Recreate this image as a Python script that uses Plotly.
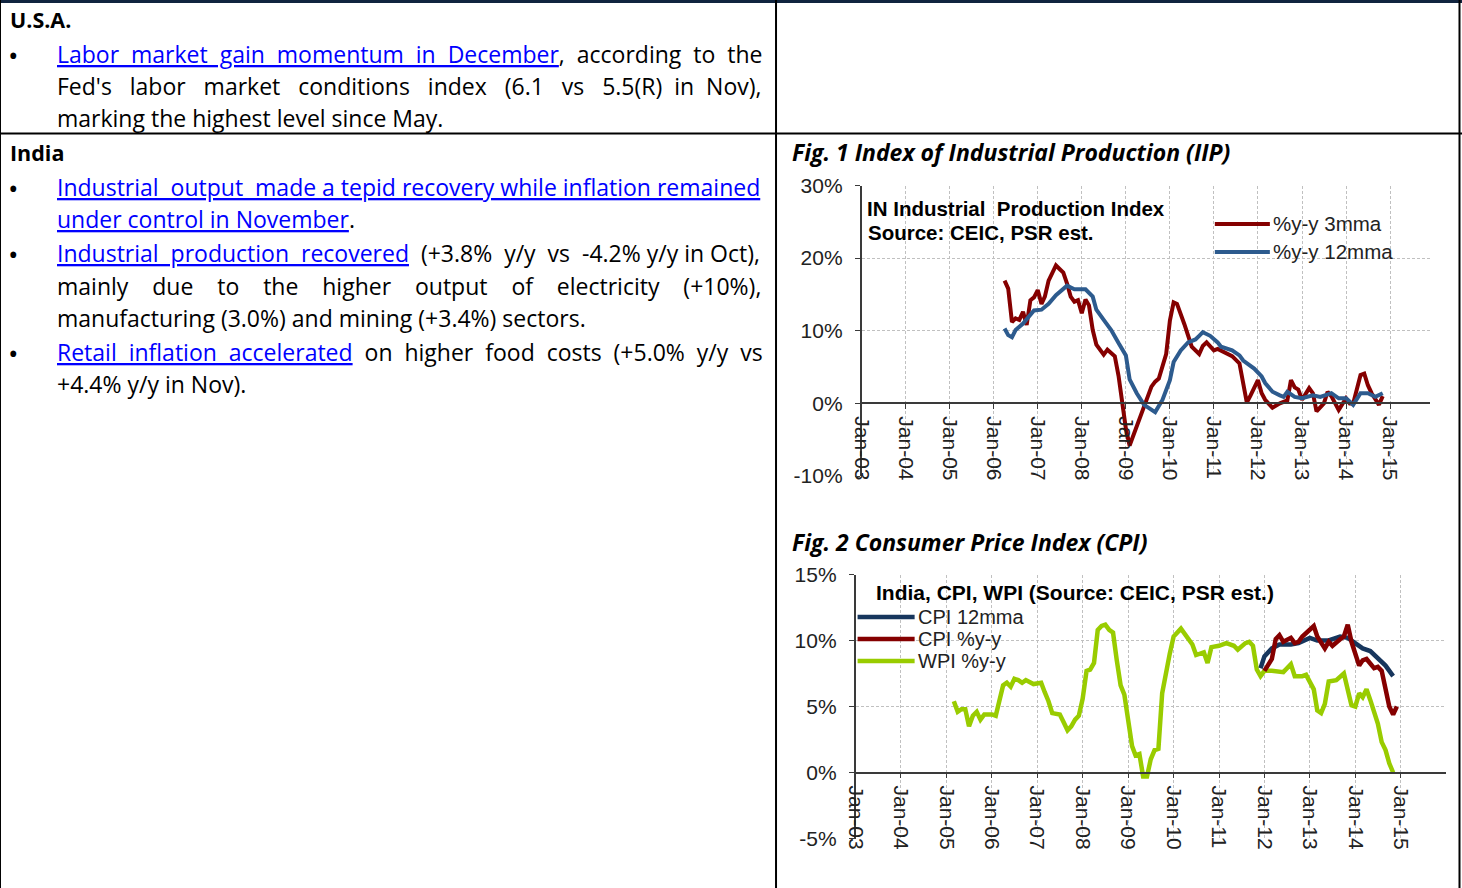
import plotly.graph_objects as go

W, H = 1462, 888
# the photographed page shows the figure inside a frame offset from the corner;
# map reference pixel positions onto that frame
OX, OY, FW, FH = 12, 12, 1450, 865


def fx(x):
    return (x - OX) / FW


def fy(y):
    return 1 - (y - OY) / FH


# ---------------- data ----------------
# Fig. 1  IN Industrial Production Index (% y-y)
iip_3mma_dates = [
    "2006-04", "2006-05", "2006-06", "2006-07", "2006-08", "2006-09", "2006-10", "2006-11", "2006-12",
    "2007-01", "2007-02", "2007-03", "2007-04", "2007-06", "2007-07", "2007-08", "2007-09", "2007-10",
    "2007-11", "2007-12", "2008-01", "2008-02", "2008-03", "2008-04", "2008-05", "2008-07", "2008-08",
    "2008-10", "2008-11", "2008-12", "2009-01", "2009-02", "2009-04", "2009-06", "2009-08", "2009-09",
    "2009-10", "2009-12", "2010-01", "2010-02", "2010-03", "2010-05", "2010-06", "2010-07", "2010-09",
    "2010-10", "2010-11", "2011-01", "2011-02", "2011-04", "2011-06", "2011-08", "2011-10", "2011-11",
    "2012-01", "2012-02", "2012-03", "2012-05", "2012-07", "2012-09", "2012-10", "2012-11", "2012-12",
    "2013-01", "2013-03", "2013-04", "2013-05", "2013-07", "2013-08", "2013-09", "2013-11", "2014-01",
    "2014-02", "2014-03", "2014-05", "2014-06", "2014-07", "2014-08", "2014-10", "2014-11",
]
iip_3mma = [
    16.9, 15.8, 11.2, 11.7, 11.5, 12.6, 10.8, 14.2, 14.6,
    15.6, 13.7, 14.7, 16.9, 19.0, 18.5, 18.0, 16.5, 14.7,
    14.0, 14.2, 12.4, 14.3, 13.5, 10.1, 8.1, 6.7, 7.4,
    6.5, 3.8, 0.1, -3.5, -5.8, -3.1, -0.4, 2.3, 3.0,
    3.4, 6.8, 11.4, 13.9, 13.7, 10.9, 9.2, 7.8, 6.8,
    7.9, 8.4, 7.3, 7.5, 7.0, 6.5, 5.5, 0.1, 1.1,
    3.2, 1.4, 0.5, -0.6, 0.0, 0.4, 3.2, 2.2, 1.9,
    0.5, 2.1, 1.4, -1.1, 0.0, 1.6, 1.0, -0.9, 0.7,
    0.0, 0.0, 3.9, 4.1, 2.5, 1.4, -0.2, 1.0,
]
iip_12mma_dates = [
    "2006-04", "2006-05", "2006-06", "2006-07", "2006-09", "2006-11", "2006-12", "2007-02", "2007-04",
    "2007-06", "2007-07", "2007-09", "2007-11", "2008-02", "2008-04", "2008-05", "2008-07", "2008-09",
    "2008-11", "2009-01", "2009-02", "2009-04", "2009-06", "2009-08", "2009-09", "2009-11", "2010-01",
    "2010-02", "2010-04", "2010-06", "2010-08", "2010-09", "2010-10", "2010-12", "2011-02", "2011-03",
    "2011-06", "2011-08", "2011-09", "2011-12", "2012-02", "2012-03", "2012-05", "2012-07", "2012-08",
    "2012-09", "2012-11", "2013-01", "2013-04", "2013-06", "2013-09", "2013-11", "2014-01", "2014-03",
    "2014-04", "2014-05", "2014-07", "2014-09", "2014-11",
]
iip_12mma = [
    10.3, 9.4, 9.1, 10.1, 11.0, 12.1, 12.8, 12.9, 13.7,
    14.9, 15.3, 16.2, 15.7, 15.7, 14.7, 12.9, 11.5, 10.1,
    8.3, 6.6, 3.3, 1.4, -0.2, -0.9, -1.2, 0.5, 3.2,
    5.7, 7.3, 8.4, 8.8, 9.3, 9.8, 9.3, 8.4, 7.8,
    7.3, 6.6, 5.9, 4.8, 3.7, 2.8, 1.6, 1.1, 0.9,
    1.6, 0.9, 0.7, 1.1, 0.9, 1.4, 0.7, 0.7, -0.2,
    0.5, 1.4, 1.4, 0.9, 1.4,
]
iip_tick_vals = [-10, 0, 10, 20, 30]
iip_tick_text = ["-10%", "0%", "10%", "20%", "30%"]

# Fig. 2  India CPI / WPI (% y-y)
wpi_dates = [
    "2005-03", "2005-04", "2005-05", "2005-06", "2005-07", "2005-08", "2005-09", "2005-10", "2005-11",
    "2006-01", "2006-02", "2006-03", "2006-04", "2006-05", "2006-06", "2006-07", "2006-08", "2006-09",
    "2006-10", "2006-12", "2007-02", "2007-03", "2007-04", "2007-05", "2007-07", "2007-08", "2007-09",
    "2007-10", "2007-11", "2007-12", "2008-01", "2008-02", "2008-03", "2008-04", "2008-05", "2008-06",
    "2008-07", "2008-08", "2008-09", "2008-10", "2008-11", "2008-12", "2009-01", "2009-02", "2009-03",
    "2009-04", "2009-05", "2009-06", "2009-07", "2009-08", "2009-09", "2009-10", "2009-12", "2010-01",
    "2010-03", "2010-04", "2010-05", "2010-06", "2010-07", "2010-08", "2010-09", "2010-10", "2010-11",
    "2011-01", "2011-03", "2011-05", "2011-06", "2011-08", "2011-09", "2011-10", "2011-11", "2011-12",
    "2012-01", "2012-03", "2012-06", "2012-08", "2012-09", "2012-11", "2012-12", "2013-02", "2013-03",
    "2013-04", "2013-05", "2013-06", "2013-08", "2013-10", "2013-11", "2013-12", "2014-01", "2014-02",
    "2014-03", "2014-04", "2014-05", "2014-07", "2014-08", "2014-09", "2014-10", "2014-11",
]
wpi_yoy = [
    5.4, 4.6, 4.8, 4.8, 3.5, 4.3, 4.6, 4.0, 4.4,
    4.4, 4.3, 5.3, 6.6, 6.8, 6.5, 7.1, 7.0, 6.8,
    7.0, 6.7, 6.8, 6.1, 5.4, 4.5, 4.4, 3.8, 3.2,
    3.5, 4.0, 4.3, 5.6, 7.7, 7.8, 8.3, 10.8, 11.1,
    11.2, 10.8, 10.6, 8.5, 6.6, 5.9, 4.0, 2.0, 1.3,
    1.4, -0.3, -0.3, 1.0, 1.7, 1.8, 6.0, 9.0, 10.3,
    10.9, 10.5, 10.1, 9.7, 8.9, 9.0, 9.1, 8.3, 9.5,
    9.6, 9.8, 9.6, 9.3, 9.8, 9.9, 9.6, 7.8, 7.3,
    7.7, 7.7, 7.6, 8.2, 7.3, 7.3, 7.4, 6.3, 4.7,
    4.5, 5.2, 6.9, 7.0, 7.5, 6.3, 5.1, 5.0, 6.0,
    5.7, 6.3, 5.5, 3.7, 2.3, 1.7, 0.7, 0.0,
]
cpi_12mma_dates = [
    "2011-12", "2012-01", "2012-03", "2012-05", "2012-08", "2012-10", "2013-01", "2013-03", "2013-06",
    "2013-09", "2013-11", "2014-01", "2014-03", "2014-05", "2014-07", "2014-09", "2014-11",
]
cpi_12mma = [
    7.9, 8.8, 9.4, 9.7, 9.7, 9.8, 10.2, 10.0, 10.0,
    10.3, 10.2, 9.8, 9.4, 9.2, 8.7, 8.1, 7.3,
]
cpi_yoy_dates = [
    "2012-01", "2012-03", "2012-04", "2012-05", "2012-06", "2012-08", "2012-09", "2012-10", "2012-11",
    "2013-01", "2013-02", "2013-03", "2013-05", "2013-06", "2013-07", "2013-09", "2013-10", "2013-11",
    "2013-12", "2014-01", "2014-02", "2014-03", "2014-04", "2014-06", "2014-07", "2014-08", "2014-09",
    "2014-10", "2014-11", "2014-12",
]
cpi_yoy = [
    7.7, 8.6, 10.1, 10.4, 9.9, 10.2, 9.8, 9.9, 10.3,
    10.8, 11.1, 10.3, 9.4, 9.9, 9.6, 10.1, 10.3, 11.2,
    9.9, 9.0, 8.1, 8.5, 8.6, 7.9, 8.0, 7.7, 6.3,
    5.0, 4.4, 5.0,
]
cpi_tick_vals = [-5, 0, 5, 10, 15]
cpi_tick_text = ["-5%", "0%", "5%", "10%", "15%"]

# ---------------- styles ----------------
RED = "#850000"
BLUE1 = "#2D5B8E"
NAVY = "#17365D"
GREEN = "#99CC00"
GRID = "#C0C0C0"
AXIS = "#3A3A3A"
CHART_FONT = "Arial, Liberation Sans, sans-serif"
DOC_FONT = "Open Sans, Noto Sans, sans-serif"
DOC_SIZE = 23
LINK_BLUE = "#0000FF"

fig = go.Figure()
fig.add_trace(go.Scatter(x=iip_3mma_dates, y=iip_3mma, mode="lines",
                         line=dict(color=RED, width=4), xaxis="x", yaxis="y", showlegend=False))
fig.add_trace(go.Scatter(x=iip_12mma_dates, y=iip_12mma, mode="lines",
                         line=dict(color=BLUE1, width=4), xaxis="x", yaxis="y", showlegend=False))
fig.add_trace(go.Scatter(x=wpi_dates, y=wpi_yoy, mode="lines",
                         line=dict(color=GREEN, width=4.5), xaxis="x2", yaxis="y2", showlegend=False))
fig.add_trace(go.Scatter(x=cpi_12mma_dates, y=cpi_12mma, mode="lines",
                         line=dict(color=NAVY, width=4.5), xaxis="x2", yaxis="y2", showlegend=False))
fig.add_trace(go.Scatter(x=cpi_yoy_dates, y=cpi_yoy, mode="lines",
                         line=dict(color=RED, width=4.5), xaxis="x2", yaxis="y2", showlegend=False))

# axes geometry (reference pixels)
c1 = dict(x0=862, x1=1430, y0=476, y1=185.5, rng=[-10, 30], tv=iip_tick_vals, tt=iip_tick_text,
          xr=["2003-01-01", "2015-11-28"])
c2 = dict(x0=856, x1=1446, y0=838.5, y1=574.5, rng=[-5, 15], tv=cpi_tick_vals, tt=cpi_tick_text,
          xr=["2003-01-01", "2015-12-31"])


def zero_pos(c):
    d0, d1 = fy(c["y0"]), fy(c["y1"])
    lo, hi = c["rng"]
    return d0 + (d1 - d0) * (0 - lo) / (hi - lo)


def xax(c):
    return dict(
        domain=[fx(c["x0"]), fx(c["x1"])], range=c["xr"], type="date",
        anchor="free", position=zero_pos(c),
        tick0="2003-01-01", dtick="M12", tickformat="%b-%y", tickangle=90,
        showgrid=True, gridcolor=GRID, griddash="3px,2px", gridwidth=1,
        showline=True, linecolor=AXIS, linewidth=1.5,
        ticks="outside", ticklen=5, tickcolor=AXIS, ticklabelstandoff=3,
        tickfont=dict(family=CHART_FONT, size=21, color="#222222"),
        zeroline=False, fixedrange=True,
    )


def yax(c, anchor):
    return dict(
        domain=[fy(c["y0"]), fy(c["y1"])], range=c["rng"],
        tickmode="array", tickvals=c["tv"], ticktext=c["tt"], anchor=anchor,
        showgrid=True, gridcolor=GRID, griddash="3px,2px", gridwidth=1,
        showline=True, linecolor=AXIS, linewidth=1.5,
        ticks="outside", ticklen=5, tickcolor=AXIS, ticklabelstandoff=8,
        tickfont=dict(family=CHART_FONT, size=21, color="#222222"),
        zeroline=False, fixedrange=True,
    )


fig.update_layout(
    width=W, height=H, autosize=False, margin=dict(l=0, r=0, t=0, b=0, pad=0),
    paper_bgcolor="white", plot_bgcolor="white",
    xaxis=xax(c1), yaxis=yax(c1, "x"),
    xaxis2=xax(c2), yaxis2=yax(c2, "x2"),
    showlegend=False, hovermode=False,
)

shapes = []


def line(x0, y0, x1, y1, color, width):
    shapes.append(dict(type="line", xref="paper", yref="paper",
                       x0=fx(x0), y0=fy(y0), x1=fx(x1), y1=fy(y1),
                       line=dict(color=color, width=width)))


# table borders
line(0, 1.5, W, 1.5, "#10243F", 3)
line(1, 0, 1, H, "#000000", 2)
line(1459.5, 0, 1459.5, H, "#000000", 2)
line(776.5, 0, 776.5, H, "#000000", 2)
line(0, 133.5, W, 133.5, "#000000", 2)

# chart legends (keys)
line(1215, 224, 1270, 224, RED, 4)
line(1215, 252, 1270, 252, BLUE1, 4)
line(858, 617, 915, 617, NAVY, 4.5)
line(858, 639, 915, 639, RED, 4.5)
line(858, 661, 915, 661, GREEN, 4.5)

annotations = []


def text(x, y, s, size=DOC_SIZE, family=DOC_FONT, color="#000000", anchor="left", **kw):
    annotations.append(dict(xref="paper", yref="paper", x=fx(x), y=fy(y), text=s,
                            showarrow=False, xanchor=anchor, yanchor="middle",
                            font=dict(family=family, size=size, color=color, **kw),
                            align="left", borderpad=0))


def link(s):
    return f'<span style="color:{LINK_BLUE}"><u>{s}</u></span>'


def justified(src, extra):
    """src: line text, link parts in [brackets]; extra: additional spaces spread over word gaps."""
    words = src.split(" ")
    gaps = max(len(words) - 1, 1)
    out = []
    state = {"link": False, "buf": ""}

    def flush():
        if state["buf"]:
            out.append(link(state["buf"]) if state["link"] else state["buf"])
            state["buf"] = ""

    for i, w in enumerate(words):
        for ch in w:
            if ch == "[":
                flush()
                state["link"] = True
            elif ch == "]":
                flush()
                state["link"] = False
            else:
                state["buf"] += ch
        if i < len(words) - 1:
            k = extra // gaps + (1 if i < extra % gaps else 0)
            state["buf"] += " " + "\u00a0" * k
    flush()
    return "".join(out)


# left column text
BUL = 28
text(10, 19, "<b>U.S.A.</b>", size=21.5)
text(8, 55, "•", size=BUL)
text(57, 54, justified("[Labor market gain momentum in December], according to the", 8))
text(57, 86, justified("Fed's labor market conditions index (6.1 vs 5.5(R) in Nov),", 16))
text(57, 118, "marking the highest level since May.")
text(10, 152, "<b>India</b>", size=21.5)
text(8, 188, "•", size=BUL)
text(57, 187, justified("[Industrial output made a tepid recovery while inflation remained]", 2))
text(57, 219, link("under control in November") + ".")
text(8, 254, "•", size=BUL)
text(57, 253, justified("[Industrial production recovered] (+3.8% y/y vs -4.2% y/y in Oct),", 6))
text(57, 286, justified("mainly due to the higher output of electricity (+10%),", 24))
text(57, 318, "manufacturing (3.0%) and mining (+3.4%) sectors.")
text(8, 353, "•", size=BUL)
text(57, 352, justified("[Retail inflation accelerated] on higher food costs (+5.0% y/y vs", 9))
text(57, 384, "+4.4% y/y in Nov).")

# figure titles
text(791, 152, "<b><i>Fig. 1 Index of Industrial Production (IIP)</i></b>", size=23)
text(791, 542, "<b><i>Fig. 2 Consumer Price Index (CPI)</i></b>", size=23)

# chart inner labels
text(866, 208, "<b>IN Industrial  Production Index</b>", size=20.5, family=CHART_FONT)
text(867, 233, "<b>Source: CEIC, PSR est.</b>", size=20.5, family=CHART_FONT)
text(1272, 223, "%y-y 3mma", size=20.5, family=CHART_FONT, color="#222222")
text(1272, 252, "%y-y 12mma", size=20.5, family=CHART_FONT, color="#222222")
text(875, 592, "<b>India, CPI, WPI (Source: CEIC, PSR est.)</b>", size=21, family=CHART_FONT)
text(917, 617, "CPI 12mma", size=20, family=CHART_FONT, color="#222222")
text(917, 639, "CPI %y-y", size=20, family=CHART_FONT, color="#222222")
text(917, 661, "WPI %y-y", size=20, family=CHART_FONT, color="#222222")

fig.update_layout(shapes=shapes, annotations=annotations)

fix_page = (
    "document.body.style.margin='0px';document.body.style.padding='0px';"
    "document.documentElement.style.overflow='hidden';document.body.style.overflow='hidden';"
)

fig.write_html("out.html", config={"displayModeBar": False}, post_script=fix_page)
